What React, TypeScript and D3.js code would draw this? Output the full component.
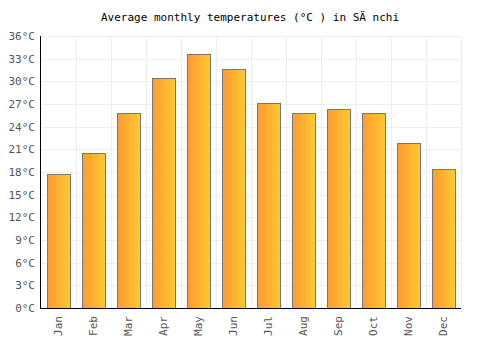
import React, { useEffect, useRef } from 'react';
import * as d3 from 'd3';

const months = ['Jan', 'Feb', 'Mar', 'Apr', 'May', 'Jun', 'Jul', 'Aug', 'Sep', 'Oct', 'Nov', 'Dec'];
const temps = [17.8, 20.5, 25.8, 30.5, 33.6, 31.6, 27.1, 25.8, 26.3, 25.8, 21.9, 18.4];
const yTicks = [0, 3, 6, 9, 12, 15, 18, 21, 24, 27, 30, 33, 36];
const title = 'Average monthly temperatures (°C ) in SÄ nchi';

const width = 500;
const height = 350;

const App: React.FC = () => {
  const svgRef = useRef<SVGSVGElement>(null);

  useEffect(() => {
    if (!svgRef.current) return;
    const svg = d3.select(svgRef.current);
    svg.selectAll('*').remove();

    const margin = { top: 36, right: 39, bottom: 42, left: 41 };
    const innerWidth = width - margin.left - margin.right;
    const innerHeight = height - margin.top - margin.bottom;
    const font = '"DejaVu Sans Mono", monospace';

    const defs = svg.append('defs');
    const grad = defs
      .append('linearGradient')
      .attr('id', 'barGrad')
      .attr('x1', '0%')
      .attr('x2', '100%')
      .attr('y1', '0%')
      .attr('y2', '0%');
    grad.append('stop').attr('offset', '0%').attr('stop-color', '#ff9a30');
    grad.append('stop').attr('offset', '100%').attr('stop-color', '#ffc933');

    const g = svg.append('g').attr('transform', `translate(${margin.left},${margin.top})`);

    const xScale = d3.scaleBand().domain(months).range([0, innerWidth]).paddingInner(0.32).paddingOuter(0.16);
    const yScale = d3.scaleLinear().domain([0, 36]).range([innerHeight, 0]);
    const step = innerWidth / months.length;

    // grid
    g.selectAll('.hgrid')
      .data(yTicks)
      .enter()
      .append('line')
      .attr('x1', 0)
      .attr('x2', innerWidth)
      .attr('y1', d => Math.round(yScale(d)) + 0.5)
      .attr('y2', d => Math.round(yScale(d)) + 0.5)
      .attr('stroke', '#eeeeee');

    g.selectAll('.vgrid')
      .data(months)
      .enter()
      .append('line')
      .attr('x1', (d, i) => Math.round(step * (i + 1)) + 0.5)
      .attr('x2', (d, i) => Math.round(step * (i + 1)) + 0.5)
      .attr('y1', 0)
      .attr('y2', innerHeight)
      .attr('stroke', '#eeeeee');

    // bars
    g.selectAll('.bar')
      .data(temps)
      .enter()
      .append('rect')
      .attr('x', (d, i) => Math.round(xScale(months[i])!) + 0.5)
      .attr('width', Math.floor(xScale.bandwidth()))
      .attr('y', d => Math.round(yScale(d)) + 0.5)
      .attr('height', d => innerHeight - Math.round(yScale(d)))
      .attr('fill', 'url(#barGrad)')
      .attr('stroke', '#777777')
      .attr('stroke-width', 1);

    // axes
    g.append('line')
      .attr('x1', -0.5)
      .attr('x2', -0.5)
      .attr('y1', 0)
      .attr('y2', innerHeight)
      .attr('stroke', '#000');
    g.append('line')
      .attr('x1', -1)
      .attr('x2', innerWidth)
      .attr('y1', innerHeight + 0.5)
      .attr('y2', innerHeight + 0.5)
      .attr('stroke', '#000');

    g.selectAll('.ylab')
      .data(yTicks)
      .enter()
      .append('text')
      .attr('x', -6)
      .attr('y', d => yScale(d))
      .attr('dy', '0.35em')
      .attr('text-anchor', 'end')
      .style('font-family', font)
      .style('font-size', '11px')
      .attr('fill', '#555')
      .text(d => `${d}°C`);

    g.selectAll('.xlab')
      .data(months)
      .enter()
      .append('text')
      .attr('transform', d => `translate(${xScale(d)! + xScale.bandwidth() / 2},${innerHeight + 8}) rotate(-90)`)
      .attr('dy', '0.35em')
      .attr('text-anchor', 'end')
      .style('font-family', font)
      .style('font-size', '11px')
      .attr('fill', '#555')
      .text(d => d);

    svg
      .append('text')
      .attr('x', 250)
      .attr('y', 21)
      .attr('text-anchor', 'middle')
      .style('font-family', font)
      .style('font-size', '11px')
      .attr('fill', '#000')
      .text(title);
  }, []);

  return <svg ref={svgRef} width={width} height={height} style={{ display: 'block', margin: '-8px' }} />;
};

export default App;
